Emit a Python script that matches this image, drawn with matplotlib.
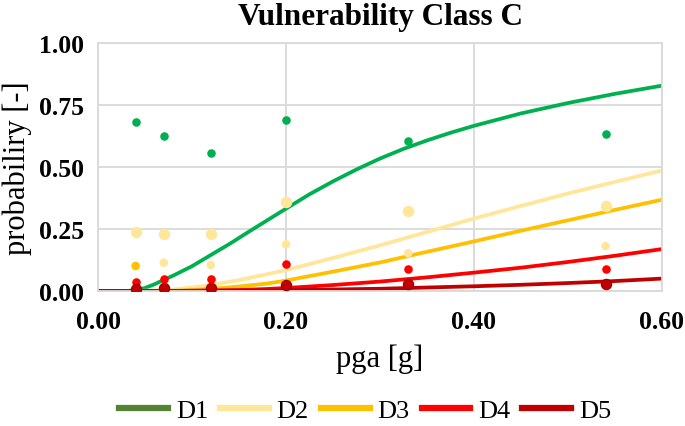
import numpy as np
import matplotlib.pyplot as plt
from matplotlib.lines import Line2D

plt.rcParams['font.family'] = ['Liberation Serif', 'DejaVu Serif']

# observed damage probabilities
pga_obs = [0.04, 0.07, 0.12, 0.20, 0.33, 0.54]
d1_obs = [0.680, 0.625, 0.556, 0.688, 0.604, 0.635]
d2_obs = [0.239, 0.230, 0.230, 0.360, 0.324, 0.344]
d3_obs = [0.101, 0.114, 0.105, 0.188, 0.152, 0.181]
d4_obs = [0.036, 0.048, 0.048, 0.109, 0.089, 0.087]
d5_obs = [0.007, 0.013, 0.013, 0.024, 0.027, 0.027]

# fitted fragility curves
pga_d1 = [0.0, 0.03, 0.04, 0.05, 0.06, 0.07, 0.08, 0.10, 0.12, 0.14, 0.16, 0.18,
          0.20, 0.225, 0.25, 0.275, 0.30, 0.325, 0.35, 0.375, 0.40, 0.45, 0.50,
          0.55, 0.60]
d1_fit = [0.0, 0.0, 0.003, 0.012, 0.027, 0.045, 0.062, 0.100, 0.145, 0.190, 0.238,
          0.285, 0.332, 0.390, 0.442, 0.490, 0.534, 0.573, 0.607, 0.638, 0.666,
          0.716, 0.758, 0.795, 0.828]
pga_fit = [0.0, 0.05, 0.08, 0.10, 0.12, 0.15, 0.18, 0.20, 0.25, 0.30, 0.35, 0.40,
           0.45, 0.50, 0.55, 0.60]
d2_fit = [0.0, 0.001, 0.006, 0.014, 0.024, 0.044, 0.068, 0.084, 0.133, 0.184, 0.238,
          0.292, 0.343, 0.393, 0.440, 0.486]
d3_fit = [0.0, 0.0, 0.001, 0.004, 0.008, 0.018, 0.030, 0.042, 0.078, 0.115, 0.158,
          0.200, 0.243, 0.285, 0.327, 0.368]
d4_fit = [0.0, 0.0, 0.0, 0.001, 0.002, 0.004, 0.008, 0.012, 0.024, 0.038, 0.055,
          0.074, 0.094, 0.117, 0.142, 0.169]
d5_fit = [0.0, 0.0, 0.0, 0.0, 0.001, 0.001, 0.002, 0.003, 0.006, 0.009, 0.014,
          0.019, 0.025, 0.032, 0.040, 0.050]

labels = ['D1', 'D2', 'D3', 'D4', 'D5']
colors = ['#00B050', '#FFE699', '#FFC000', '#FF0000', '#C00000']
legend_colors = ['#548235', '#FFE699', '#FFC000', '#FF0000', '#C00000']

fig = plt.figure(figsize=(6.85, 4.27), dpi=100)
ax = fig.add_axes([0.1431, 0.3162, 0.8233, 0.5808])

grid_c = '#D9D9D9'
for s in ax.spines.values():
    s.set_color(grid_c)
    s.set_linewidth(1.3)
ax.grid(True, color=grid_c, linewidth=1.3)
ax.set_axisbelow(True)

# lines
ax.plot(pga_d1, d1_fit, color=colors[0], lw=2.7, zorder=2, solid_capstyle='butt')
for y, c in zip([d2_fit, d3_fit, d4_fit, d5_fit], colors[1:]):
    ax.plot(pga_fit, y, color=c, lw=2.7, zorder=2, solid_capstyle='butt')

# observed points
ax.scatter(pga_obs, d1_obs, s=38, color=colors[0], zorder=3, linewidths=0)
ax.scatter(pga_obs, d2_obs, s=68, color=colors[1], zorder=3, linewidths=0)
d3_cols = [colors[2]] + [colors[1]] * (len(pga_obs) - 1)
ax.scatter(pga_obs, d3_obs, s=38, color=d3_cols, zorder=3, linewidths=0)
ax.scatter(pga_obs, d4_obs, s=38, color=colors[3], zorder=3, linewidths=0)
ax.scatter(pga_obs, d5_obs, s=55, color=colors[4], edgecolors='#990000',
           zorder=4, linewidths=0.8)

ax.set_xlim(0, 0.6)
ax.set_ylim(0, 1.0)
ax.set_xticks([0.0, 0.2, 0.4, 0.6])
ax.set_yticks([0.0, 0.25, 0.5, 0.75, 1.0])
ax.set_xticklabels(['0.00', '0.20', '0.40', '0.60'])
ax.set_yticklabels(['0.00', '0.25', '0.50', '0.75', '1.00'])
ax.tick_params(length=0, labelsize=18.5)
ax.tick_params(axis='x', pad=14)
ax.tick_params(axis='y', pad=10)
for t in ax.get_xticklabels() + ax.get_yticklabels():
    t.set_fontweight('bold')

ax.set_title('Vulnerability Class C', fontsize=22.5, fontweight='bold', pad=14)
ax.set_xlabel('pga [g]', fontsize=22, labelpad=7)
ax.set_ylabel('probabiliry [-]', fontsize=22, labelpad=5)

handles = [Line2D([], [], color=c, lw=4.5) for c in legend_colors]
fig.legend(handles, labels, loc='center', bbox_to_anchor=(0.533, 0.036), ncol=5,
           frameon=False, fontsize=19, handlelength=1.85, handletextpad=0.3,
           columnspacing=0.45)

fig.savefig('out.png', dpi=100)
